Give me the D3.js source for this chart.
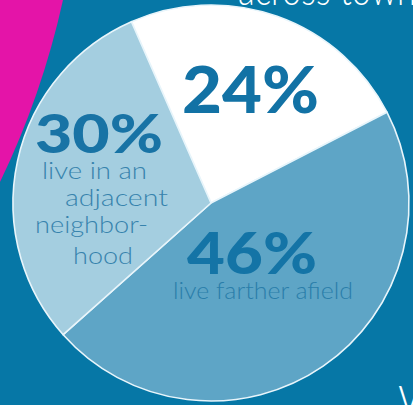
<!DOCTYPE html>
<html>
<head>
<meta charset="utf-8">
<script src="https://cdn.jsdelivr.net/npm/d3@7"></script>
<style>
  html, body { margin: 0; padding: 0; background: #0677a6; overflow: hidden; }
  svg { display: block; }
</style>
</head>
<body>
<svg id="chart" width="413" height="405"></svg>
<script>
// Where residents live relative to their neighborhood
const categories = ["same", "farther", "adjacent"];
const shares = [24, 46, 30];
const sliceColors = ["#ffffff", "#5ea5c6", "#a4cee0"];
const valueLabels = ["24%", "46%", "30%"];
const captionLines = [
  [],
  ["live farther afield"],
  ["live in an", "adjacent", "neighbor-", "hood"]
];

const W = 413, H = 405;
const cx = 211, cy = 203, R = 198;

const svg = d3.select("#chart");

svg.append("rect").attr("width", W).attr("height", H).attr("fill", "#0677a6");

// magenta corner band
svg.append("path")
  .attr("d", "M0,0 L63,0 Q42,95 0,182 Z")
  .attr("fill", "#e414a8");

// headline text running off the top edge
svg.append("text")
  .attr("x", 238).attr("y", 5)
  .attr("font-family", "Lato, sans-serif")
  .attr("font-weight", 300)
  .attr("font-size", 44)
  .attr("textLength", 178)
  .attr("lengthAdjust", "spacingAndGlyphs")
  .attr("fill", "#ffffff")
  .text("across town");

// next headline starting at the bottom edge
svg.append("text")
  .attr("x", 398).attr("y", 414)
  .attr("font-family", "Lato, sans-serif")
  .attr("font-weight", 300)
  .attr("font-size", 40)
  .attr("fill", "#ffffff")
  .text("W");

const startA = -23.7 * Math.PI / 180;
const pie = d3.pie().sort(null).value(d => d)
  .startAngle(startA).endAngle(startA + 2 * Math.PI);
const arcs = pie(shares);
const arc = d3.arc().innerRadius(0).outerRadius(R);

const g = svg.append("g").attr("transform", `translate(${cx},${cy})`);

g.selectAll("path.slice")
  .data(arcs)
  .join("path")
  .attr("class", "slice")
  .attr("d", arc)
  .attr("fill", (d, i) => sliceColors[i])
  .attr("stroke", "#e8f5fb")
  .attr("stroke-width", 1.6)
  .attr("stroke-linejoin", "round");

// value label font sizes and widths
const valueSpec = [
  { size: 64, len: 137 },
  { size: 57, len: 130 },
  { size: 53, len: 128 }
];
// anchor points (left, baseline) for each value label
const valuePos = [[182, 113], [187, 274], [35, 153]];
const captionPos = [
  [],
  [[173, 299, 180]],
  [[42, 179, 105], [65, 206, 103], [35, 233, 113], [73, 264, 60]]
];
const valueColors = ["#1272a5", "#1474a6", "#1873a5"];
const captionColors = ["#1474a6", "#2a7eaa", "#3783ad"];

arcs.forEach((a, i) => {
  const [x, y] = valuePos[i];
  svg.append("text")
    .attr("x", x).attr("y", y)
    .attr("font-family", "Lato, sans-serif")
    .attr("font-weight", 900)
    .attr("font-size", valueSpec[i].size)
    .attr("textLength", valueSpec[i].len)
    .attr("lengthAdjust", "spacingAndGlyphs")
    .attr("fill", valueColors[i])
    .text(valueLabels[i]);

  captionLines[i].forEach((line, j) => {
    const [lx, ly, lw] = captionPos[i][j];
    svg.append("text")
      .attr("x", lx).attr("y", ly)
      .attr("font-family", "Lato, sans-serif")
      .attr("font-weight", 300)
      .attr("font-size", 23)
      .attr("textLength", lw)
      .attr("lengthAdjust", "spacingAndGlyphs")
      .attr("fill", captionColors[i])
      .text(line);
  });
});
</script>
</body>
</html>
